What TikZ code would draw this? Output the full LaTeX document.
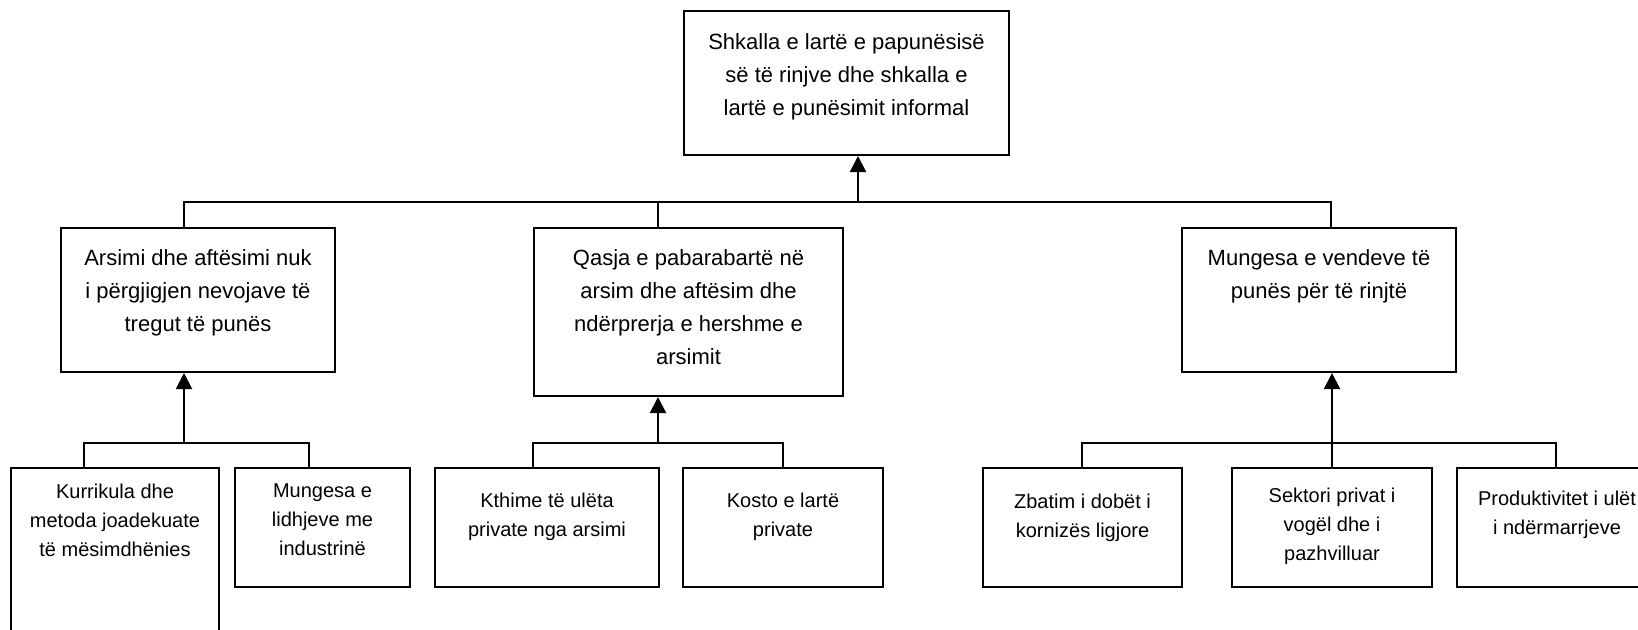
\documentclass[tikz,border=0pt]{standalone}
\usepackage{fontspec}
\setmainfont{Liberation Sans}
\usetikzlibrary{arrows.meta, positioning}

\begin{document}
\begin{tikzpicture}[
    x=0.5pt, y=-0.5pt,
    caja/.style={
        rectangle,
        draw=black,
        line width=1pt,
        anchor=north west,
        inner sep=0pt
    },
    texto1/.style={
        align=center,
        inner sep=0pt,
        font=\fontsize{11}{16.5}\selectfont
    },
    texto2/.style={
        align=center,
        inner sep=0pt,
        font=\fontsize{10}{14.5}\selectfont
    },
    linea/.style={line width=1pt},
    flecha/.style={line width=1pt, -{Triangle[width=8pt,length=8pt]}}
]
\useasboundingbox (0,0) rectangle (1638,629);
\clip (0,0) rectangle (1638,629);

% problema kryesor
\node[caja, minimum width=162.5pt, minimum height=72pt] (shkalla) at (683,10) {};
\node[texto1, below=11.5pt of shkalla.north] (shkalla-t) {Shkalla e lartë e papunësisë\\së të rinjve dhe shkalla e\\lartë e punësimit informal};

% shkaqet
\node[caja, minimum width=137pt, minimum height=72pt] (arsimi) at (60,227) {};
\node[texto1, below=11pt of arsimi.north] (arsimi-t) {Arsimi dhe aftësimi nuk\\i përgjigjen nevojave të\\tregut të punës};
\node[caja, minimum width=154.5pt, minimum height=84pt] (qasja) at (533,227) {};
\node[texto1, below=11pt of qasja.north] (qasja-t) {Qasja e pabarabartë në\\arsim dhe aftësim dhe\\ndërprerja e hershme e\\arsimit};
\node[caja, minimum width=137pt, minimum height=72pt] (mungesa) at (1181,227) {};
\node[texto1, below=11pt of mungesa.north] (mungesa-t) {Mungesa e vendeve të\\punës për të rinjtë};

% nen-shkaqet
\node[caja, minimum width=104pt, minimum height=100pt] (kurrikula) at (10,467) {};
\node[texto2, below=8.2pt of kurrikula.north] (kurrikula-t) {Kurrikula dhe\\metoda joadekuate\\të mësimdhënies};
\node[caja, minimum width=87.5pt, minimum height=59.5pt] (lidhjet) at (234,467) {};
\node[texto2, below=8.2pt of lidhjet.north] (lidhjet-t) {Mungesa e\\lidhjeve me\\industrinë};
\node[caja, minimum width=112pt, minimum height=59.5pt] (kthime) at (434,467) {};
\node[texto2, below=12.7pt of kthime.north] (kthime-t) {Kthime të ulëta\\private nga arsimi};
\node[caja, minimum width=100pt, minimum height=59.5pt] (kosto) at (682,467) {};
\node[texto2, below=12.7pt of kosto.north] (kosto-t) {Kosto e lartë\\private};
\node[caja, minimum width=99.5pt, minimum height=59.5pt] (zbatim) at (982,467) {};
\node[texto2, below=13.2pt of zbatim.north] (zbatim-t) {Zbatim i dobët i\\kornizës ligjore};
\node[caja, minimum width=100pt, minimum height=59.5pt] (sektori) at (1231,467) {};
\node[texto2, below=10.2pt of sektori.north] (sektori-t) {Sektori privat i\\vogël dhe i\\pazhvilluar};
\node[caja, minimum width=100pt, minimum height=59.5pt] (produktiviteti) at (1456,467) {};
\node[texto2, below=11.7pt of produktiviteti.north] (produktiviteti-t) {Produktivitet i ulët\\i ndërmarrjeve};

% lidhjet lart
\coordinate (b0) at (858,202);
\coordinate (b1) at (184,202);
\coordinate (b2) at (658,202);
\coordinate (b3) at (1331,202);
\draw[linea] (b1 |- arsimi.north) -- (b1) -- (b3) -- (b3 |- mungesa.north);
\draw[linea] (b2) -- (b2 |- qasja.north);
\draw[flecha] (b0) -- (b0 |- shkalla.south);

% grupi 1
\coordinate (g1) at (184,443);
\coordinate (g1a) at (84,443);
\coordinate (g1b) at (309,443);
\draw[linea] (g1a |- kurrikula.north) -- (g1a) -- (g1b) -- (g1b |- lidhjet.north);
\draw[flecha] (g1) -- (g1 |- arsimi.south);

% grupi 2
\coordinate (g2) at (658,443);
\coordinate (g2a) at (533,443);
\coordinate (g2b) at (783,443);
\draw[linea] (g2a |- kthime.north) -- (g2a) -- (g2b) -- (g2b |- kosto.north);
\draw[flecha] (g2) -- (g2 |- qasja.south);

% grupi 3
\coordinate (g3a) at (1082,443);
\coordinate (g3b) at (1556,443);
\draw[linea] (g3a |- zbatim.north) -- (g3a) -- (g3b) -- (g3b |- produktiviteti.north);
\draw[flecha] (sektori.north) -- (sektori.north |- mungesa.south);
\end{tikzpicture}
\end{document}
